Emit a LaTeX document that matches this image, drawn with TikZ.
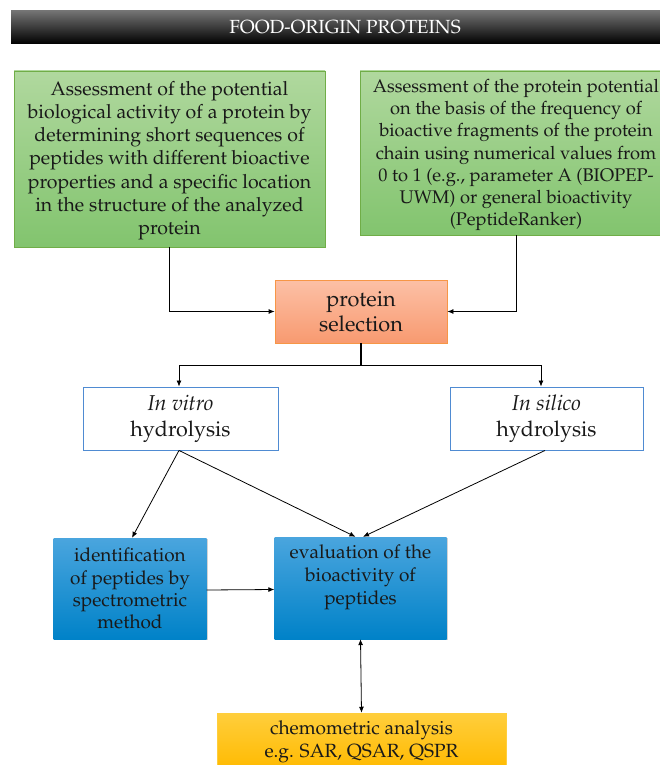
\documentclass[tikz,border=0pt]{standalone}
\usepackage[T1]{fontenc}
\usepackage{mathpazo}
\usetikzlibrary{arrows.meta,shadows}
\definecolor{gTop}{RGB}{176,216,158}
\definecolor{gBot}{RGB}{130,196,110}
\definecolor{gBrd}{RGB}{112,173,71}
\definecolor{oTop}{RGB}{252,192,166}
\definecolor{oBot}{RGB}{248,154,112}
\definecolor{oBrd}{RGB}{247,150,70}
\definecolor{bBrd}{RGB}{79,139,210}
\definecolor{bTop}{RGB}{74,165,222}
\definecolor{bBot}{RGB}{0,130,200}
\definecolor{yTop}{RGB}{255,206,60}
\definecolor{yBot}{RGB}{255,186,0}
\definecolor{txt}{RGB}{25,25,25}
\tikzset{
  box/.style={rectangle, inner sep=0pt, align=center, text=txt},
  greenbox/.style={box, draw=gBrd, line width=0.8pt, top color=gTop, bottom color=gBot},
  orangebox/.style={box, draw=oBrd, line width=0.8pt, top color=oTop, bottom color=oBot},
  whitebox/.style={box, draw=bBrd, line width=0.9pt, fill=white},
  bluebox/.style={box, top color=bTop, bottom color=bBot, drop shadow={opacity=0.35, shadow xshift=1.2pt, shadow yshift=-1.2pt}},
  yellowbox/.style={box, top color=yTop, bottom color=yBot, draw=yTop, line width=0.5pt},
  conn/.style={draw=black, line width=0.8pt},
  arr/.style={conn, -{Latex[length=6pt,width=5pt]}},
}
\begin{document}
\begin{tikzpicture}[x=1pt,y=-1pt]
\useasboundingbox (0,0) rectangle (660,765);
% title bar
\node[box, minimum width=649pt, minimum height=33pt, top color=black!55, middle color=black, bottom color=black] (title) at (335.5,27.5) {};
\node[box, text=white, font=\fontsize{19}{20}\selectfont] (titletext) at (345,27.5) {FOOD-ORIGIN PROTEINS};
% green boxes
\node[greenbox, minimum width=311pt, minimum height=176pt] (greenL) at (169.5,159) {};
\node[box, font=\fontsize{19.5}{23.2}\selectfont] (greenLtext) at (169.5,160.5) {Assessment of the potential\\ biological activity of a protein by\\ determining short sequences of\\ peptides with different bioactive\\ properties and a specific location\\ in the structure of the analyzed\\ protein};
\node[greenbox, minimum width=302pt, minimum height=164pt] (greenR) at (511,153) {};
\node[box, font=\fontsize{18.3}{22.3}\selectfont] (greenRtext) at (516,155) {Assessment of the protein potential\\ on the basis of the frequency of\\ bioactive fragments of the protein\\ chain using numerical values from\\ 0 to 1 (e.g., parameter A (BIOPEP-\\ UWM) or general bioactivity\\ (PeptideRanker)};
% protein selection
\node[orangebox, minimum width=172pt, minimum height=63pt, font=\fontsize{21.7}{25}\selectfont] (protein) at (361,311.5) {protein\\ selection};
% hydrolysis
\node[whitebox, minimum width=195pt, minimum height=63pt, font=\fontsize{21.5}{26}\selectfont] (invitro) at (180.5,418.5) {\textit{In vitro}\\ hydrolysis};
\node[whitebox, minimum width=193pt, minimum height=63pt, font=\fontsize{21.5}{26}\selectfont] (insilico) at (546.5,418.5) {\textit{In silico}\\ hydrolysis};
% blue boxes
\node[bluebox, minimum width=153pt, minimum height=101pt, font=\fontsize{19}{22.3}\selectfont] (ident) at (130,588.5) {identification\\ of peptides by\\ spectrometric\\ method};
\node[bluebox, minimum width=172pt, minimum height=102pt] (eval) at (360.5,588) {};
\node[box, font=\fontsize{19}{23}\selectfont] (evaltext) at (360.5,577) {evaluation of the\\ bioactivity of\\ peptides};
% chemometric
\node[yellowbox, minimum width=289pt, minimum height=57pt] (chemo) at (361.5,741.5) {};
\node[box, font=\fontsize{19.1}{23}\selectfont] (chemotext) at (361.5,741.5) {chemometric analysis\\ e.g. SAR, QSAR, QSPR};
% connectors
\draw[arr] (greenL.south) |- (protein.west);
\draw[arr] ([xshift=5pt]greenR.south) |- (protein.east);
\draw[conn, line width=1.6pt] (protein.south) -- ++(0,22) coordinate (split);
\draw[arr] (split) -| ([xshift=-1.5pt]invitro.north);
\draw[arr] (split) -| ([xshift=-5.5pt]insilico.north);
\draw[arr] ([xshift=-1.5pt]invitro.south) -- ([xshift=2pt]ident.north);
\draw[arr] ([xshift=-1.5pt]invitro.south) -- ([xshift=-5pt]eval.north);
\draw[arr] ([xshift=-1.5pt]insilico.south) -- ([xshift=2.5pt]eval.north);
\draw[arr] ([yshift=-1.5pt]ident.east) -- ([yshift=-1.5pt]eval.west);
\draw[conn, {Latex[length=6pt,width=5pt]}-{Latex[length=6pt,width=5pt]}] (eval.south) -- (chemo.north);
\end{tikzpicture}
\end{document}
